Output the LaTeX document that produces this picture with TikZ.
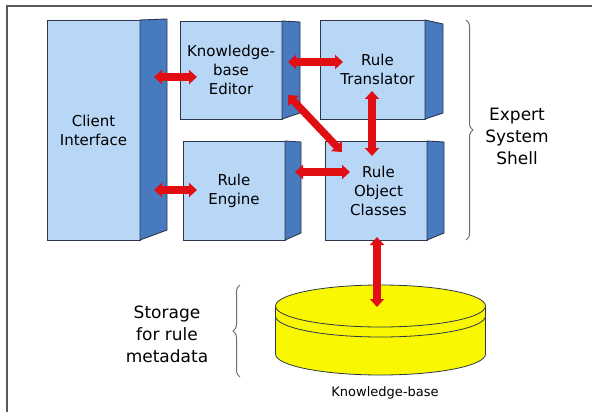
\documentclass[tikz,border=0pt]{standalone}
\usepackage{fontspec}
\setmainfont{DejaVu Sans}
\usetikzlibrary{arrows.meta,decorations.pathreplacing,calc}
\definecolor{frontblue}{RGB}{184,214,246}
\definecolor{sideblue}{RGB}{72,122,192}
\definecolor{edgecol}{RGB}{45,55,75}
\definecolor{arrowred}{RGB}{225,14,20}
\definecolor{kbyellow}{RGB}{250,248,0}
\definecolor{bracegray}{RGB}{110,110,110}
\begin{document}
\begin{tikzpicture}[x=1pt,y=-1pt,
  front/.style={draw=edgecol, fill=frontblue, line width=0.9pt, inner sep=0pt, outer sep=0pt, align=center, font=\fontsize{15}{19}\selectfont},
  sideface/.style={draw=edgecol, fill=sideblue, line width=0.9pt, line join=round},
  biarrow/.style={draw=arrowred, line width=7.5pt, {Triangle[width=14pt,length=8pt]}-{Triangle[width=14pt,length=8pt]}},
  bracestyle/.style={draw=bracegray, line width=1pt, decorate, decoration={brace, amplitude=7pt}},
  lbl/.style={font=\fontsize{17}{22}\selectfont, align=center},
  cyl/.style={draw=edgecol, line width=0.8pt, fill=kbyellow}
]
\useasboundingbox (0,0) rectangle (592,412);
\draw[line width=2pt, draw=black!65] (592,6) -- (7,6) -- (7,412);

% boxes (front faces)
\node[front, minimum width=93pt, minimum height=220pt] (ci) at (93.5,130) {Client\\Interface};
\node[front, minimum width=102pt, minimum height=98pt] (kbe) at (231,70) {Knowledge-\\base\\Editor};
\node[front, minimum width=102pt, minimum height=99pt] (re) at (234,190.5) {Rule\\Engine};
\node[front, minimum width=105pt, minimum height=99pt] (tr) at (372.5,69.5) {\hspace*{10pt}Rule\\\hspace*{10pt}Translator};
\node[front, minimum width=102pt, minimum height=99pt] (roc) at (376,190.5) {\hspace*{5pt}Rule\\\hspace*{5pt}Object\\\hspace*{5pt}Classes};

% side faces
\draw[sideface] (ci.north east) -- ++(27,-1) -- ($(ci.south east)+(27,-10)$) -- (ci.south east) -- cycle;
\draw[sideface] (kbe.north east) -- ++(18,1) -- ($(kbe.south east)+(18,-6)$) -- (kbe.south east) -- cycle;
\draw[sideface] (re.north east) -- ++(16,1) -- ($(re.south east)+(16,-7)$) -- (re.south east) -- cycle;
\draw[sideface] (tr.north east) -- ++(18,4) -- ($(tr.south east)+(18,-6)$) -- (tr.south east) -- cycle;
\draw[sideface] (roc.north east) -- ++(17,1) -- ($(roc.south east)+(17,-7)$) -- (roc.south east) -- cycle;

% knowledge-base cylinder
\path[cyl] (275.5,306) -- (275.5,354) arc[start angle=180, end angle=0, x radius=105, y radius=21] -- (485.5,306) -- cycle;
\path[cyl] (380.5,306) ellipse[x radius=105, y radius=21];
\draw[edgecol, line width=0.8pt] (275.5,316) arc[start angle=180, end angle=0, x radius=105, y radius=21];
\coordinate (kbtop) at (377,307);

% arrows
\draw[biarrow] ([shift={(14,57)}]ci.north east) -- ([shift={(17,56)}]kbe.north west);
\draw[biarrow] ([shift={(14,-50)}]ci.south east) -- ([shift={(14,49)}]re.north west);
\draw[biarrow] ([shift={(6,41)}]kbe.north east) -- ([shift={(23,42)}]tr.north west);
\draw[biarrow] ([shift={(10,31)}]re.north east) -- ([shift={(25,31)}]roc.north west);
\draw[biarrow] ([shift={(6,-24)}]kbe.south east) -- ([shift={(17,11)}]roc.north west);
\draw[biarrow] ([shift={(-0.5,-28)}]tr.south) -- ([shift={(-4,15)}]roc.north);
\draw[biarrow] ([shift={(1,-3)}]roc.south) -- (kbtop);

% braces and labels
\draw[bracestyle] (466,20) -- (466,240);
\node[lbl] (ess) at (517,136) {Expert\\System\\Shell};
\draw[bracestyle] (240,377) -- (240,285);
\node[lbl] (stor) at (167,334) {Storage\\for rule\\metadata};
\node[font=\fontsize{13}{15}\selectfont] (kbl) at (385,393) {Knowledge-base};
\end{tikzpicture}
\end{document}
